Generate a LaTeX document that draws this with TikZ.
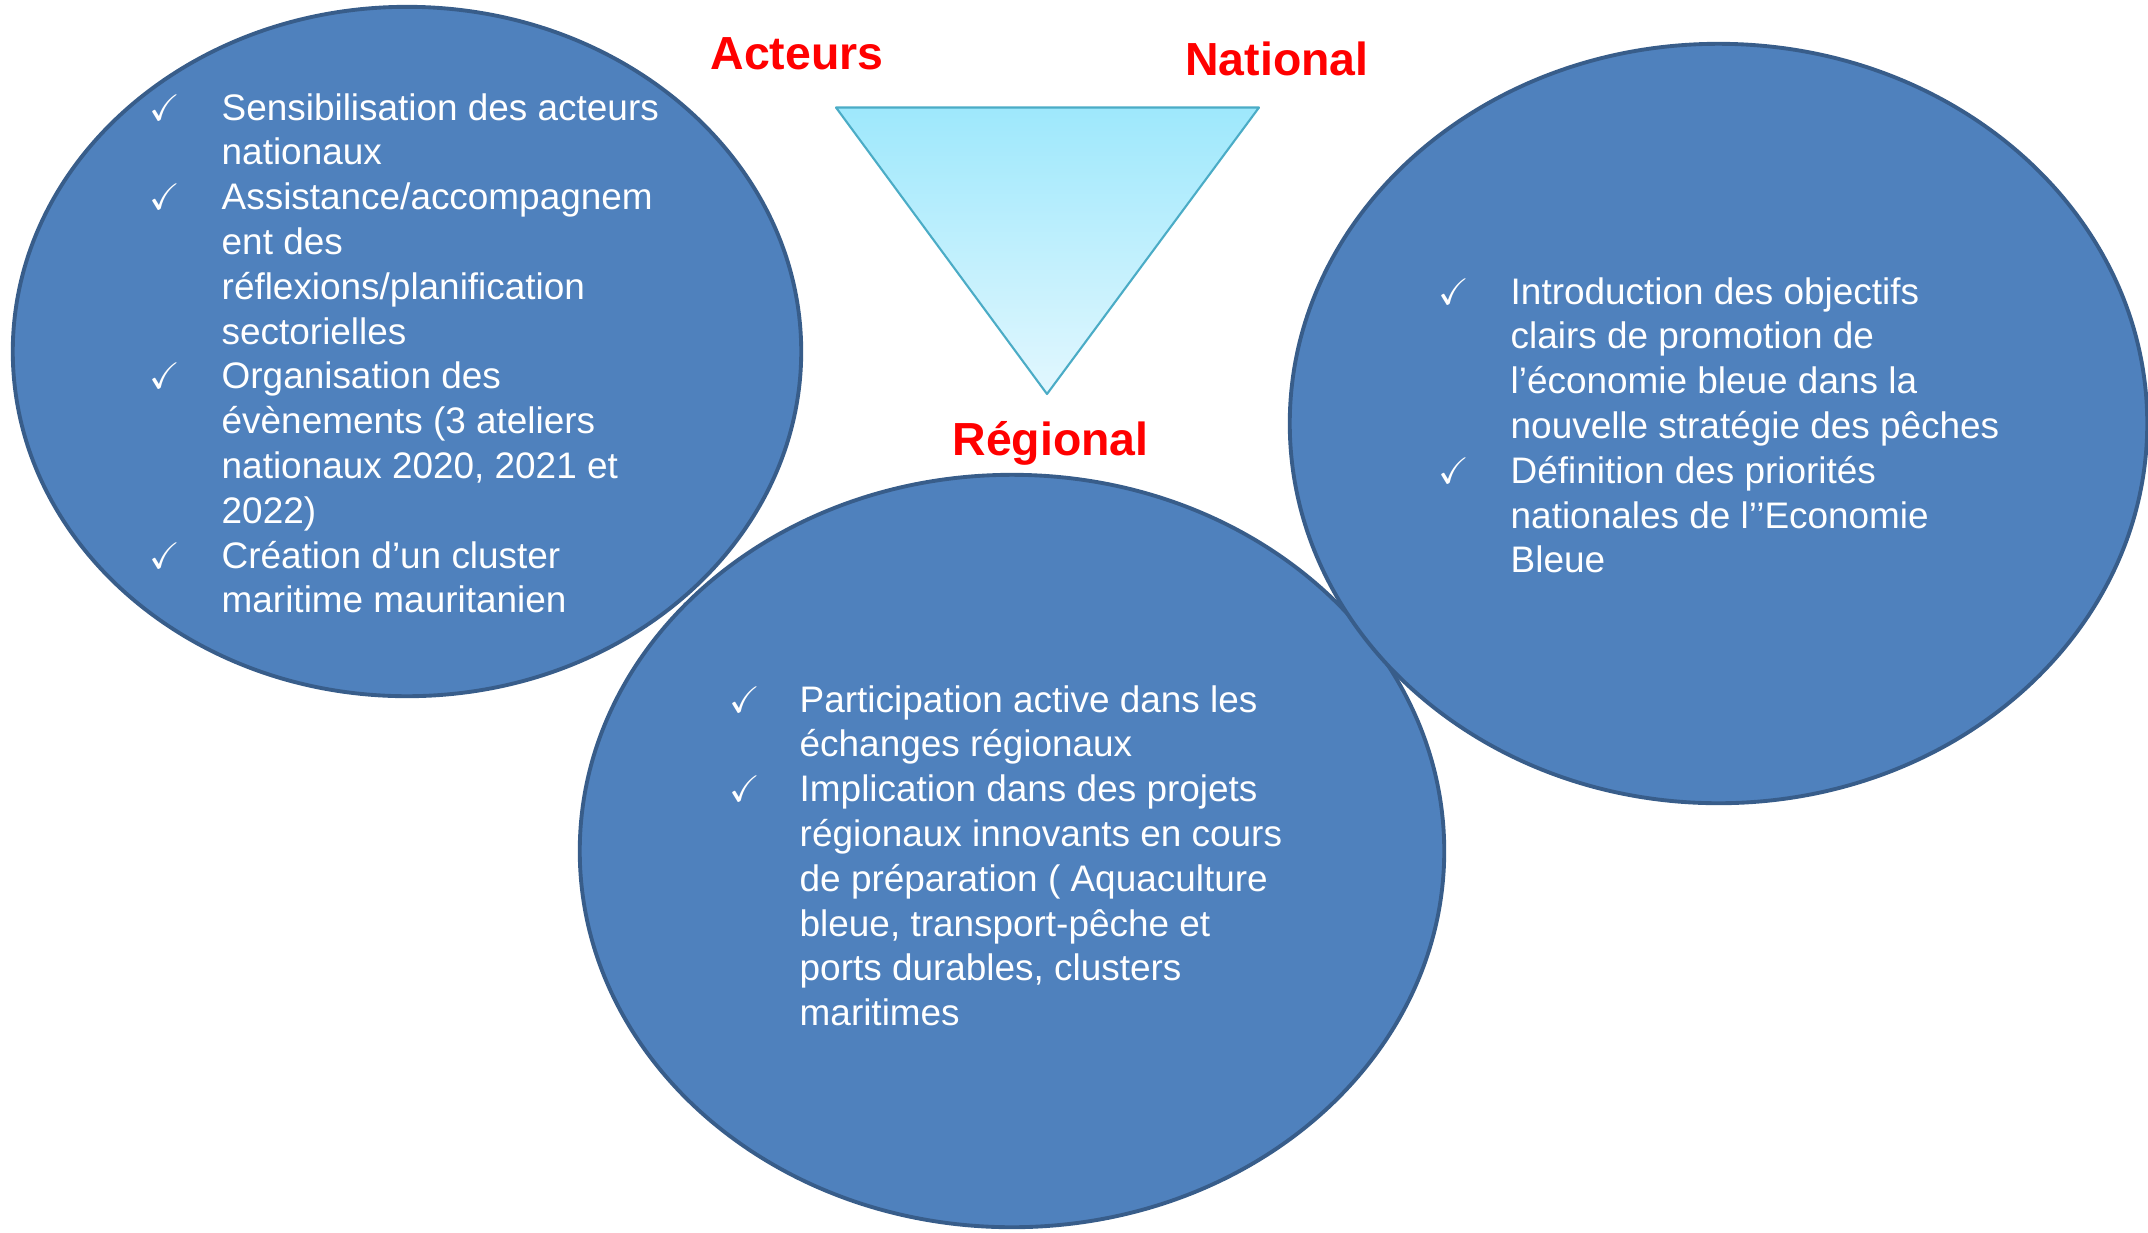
\documentclass[tikz,border=0pt]{standalone}
\usepackage{amssymb}
\usepackage{fontspec}
\setmainfont{Liberation Sans}
\usetikzlibrary{shapes.geometric}

\definecolor{bulleFond}{RGB}{79,129,189}
\definecolor{bulleBord}{RGB}{56,93,138}
\definecolor{triHaut}{RGB}{158,232,252}
\definecolor{triBas}{RGB}{226,247,254}
\definecolor{triBord}{RGB}{75,172,198}

\tikzset{
  bulle/.style={ellipse, draw=bulleBord, fill=bulleFond, line width=1.1pt, inner sep=0pt},
  ligne/.style={anchor=base west, inner sep=0pt, text=white, font=\fontsize{10.5pt}{12.7pt}\selectfont},
  coche/.style={anchor=base west, inner sep=0pt, text=white, font=\fontsize{10.5pt}{12.7pt}\selectfont},
  titre/.style={anchor=base, inner sep=0pt, text=red, font=\bfseries\fontsize{13.2pt}{15pt}\selectfont},
}

\begin{document}
\begin{tikzpicture}[x=0.01cm,y=-0.01cm]
    \useasboundingbox (0,0) rectangle (2148,1232);

    % the three bubbles (left, bottom, right)
    \node[bulle, minimum width=7.88cm, minimum height=6.89cm] (ellActeurs)  at (407,351.5) {};
    \node[bulle, minimum width=8.64cm, minimum height=7.52cm] (ellRegional) at (1012,851) {};
    \node[bulle, minimum width=8.57cm, minimum height=7.59cm] (ellNational) at (1718.5,423.5) {};

    % triangle in the middle
    \coordinate (triG) at (836,107.5);
    \coordinate (triD) at (1259,107.5);
    \coordinate (triB) at (1047,394);
    \draw[triBord, line width=0.6pt, line join=round, top color=triHaut, bottom color=triBas]
      (triG) -- (triD) -- (triB) -- cycle;

    % red titles
    \node[titre] (lblActeurs)  at (797,69)     {Acteurs};
    \node[titre] (lblNational) at (1277,75)    {National};
    \node[titre] (lblRegional) at (1050.5,455) {Régional};

    % left bubble: text
    \foreach \i/\txt in {0/Sensibilisation des acteurs, 1/nationaux,
                         2/{Assistance/accompagnem}, 3/ent des,
                         4/{réflexions/planification}, 5/sectorielles,
                         6/Organisation des, 7/évènements (3 ateliers,
                         8/{nationaux 2020, 2021 et}, 9/2022),
                         10/Création d’un cluster, 11/maritime mauritanien} {
      \node[ligne] (act-\i) at (221,120+\i*44.8) {\txt};
    }
    \foreach \i in {0,2,6,10} {
      \node[coche] (cact-\i) at (149,120+\i*44.8) {$\checkmark$};
    }

    % right bubble: text
    \foreach \i/\txt in {0/Introduction des objectifs, 1/clairs de promotion de,
                         2/l’économie bleue dans la, 3/nouvelle stratégie des pêches,
                         4/Définition des priorités, 5/nationales de l’’Economie,
                         6/Bleue} {
      \node[ligne] (nat-\i) at (1510,304+\i*44.8) {\txt};
    }
    \foreach \i in {0,4} {
      \node[coche] (cnat-\i) at (1438,304+\i*44.8) {$\checkmark$};
    }

    % bottom bubble: text
    \foreach \i/\txt in {0/Participation active dans les, 1/échanges régionaux,
                         2/Implication dans des projets, 3/régionaux innovants en cours,
                         4/de préparation ( Aquaculture, 5/{bleue, transport-pêche et},
                         6/{ports durables, clusters}, 7/maritimes} {
      \node[ligne] (reg-\i) at (799,712+\i*44.8) {\txt};
    }
    \foreach \i in {0,2} {
      \node[coche] (creg-\i) at (729,712+\i*44.8) {$\checkmark$};
    }
\end{tikzpicture}
\end{document}
